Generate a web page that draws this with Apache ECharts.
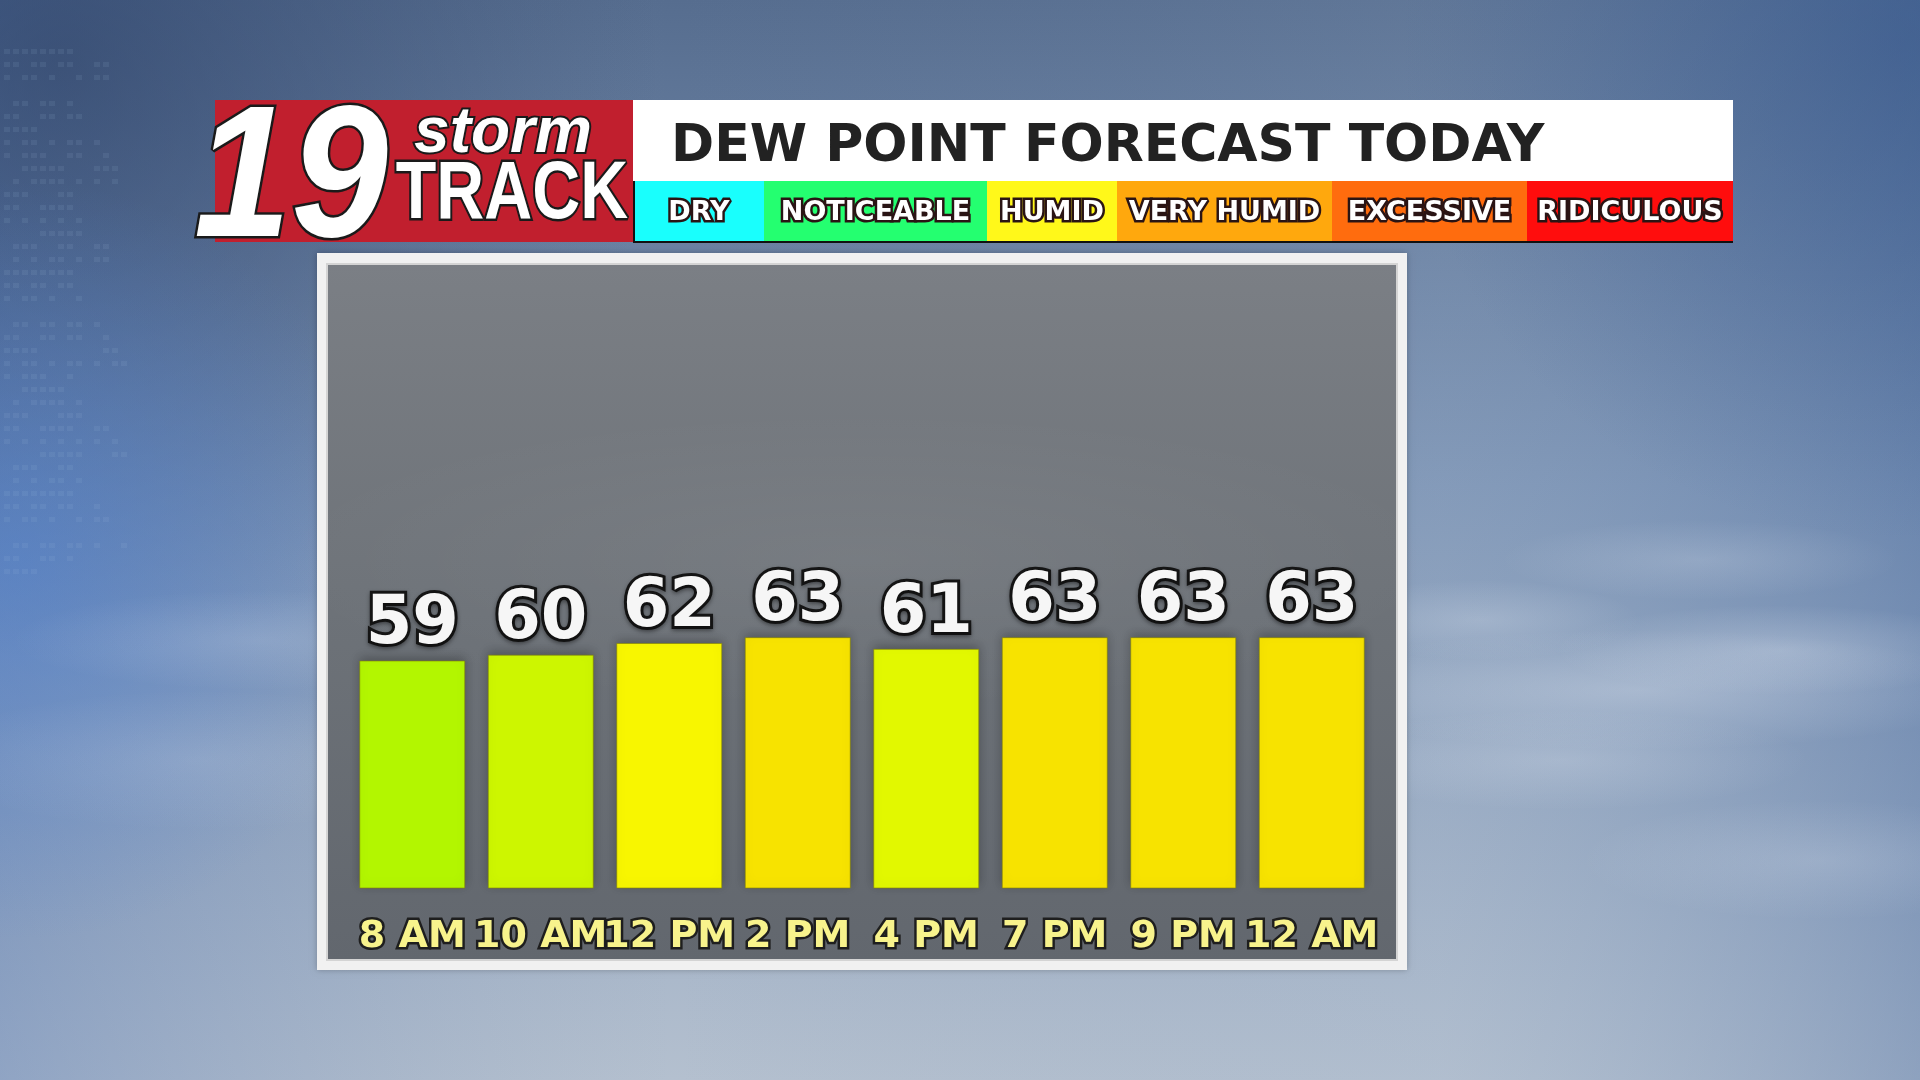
<!DOCTYPE html>
<html>
<head>
<meta charset="utf-8">
<script src="https://cdn.jsdelivr.net/npm/echarts@6/dist/echarts.min.js"></script>
<style>
  html, body { margin: 0; padding: 0; background: #7f93ad; }
  #chart { width: 1920px; height: 1080px; }
</style>
</head>
<body>
<div id="chart"></div>
<script>
// ---- data ----
const categories = ['8 AM', '10 AM', '12 PM', '2 PM', '4 PM', '7 PM', '9 PM', '12 AM'];
const dewPoints = [59, 60, 62, 63, 61, 63, 63, 63];
const titleText = 'DEW POINT FORECAST TODAY';
const scaleLabels = ['DRY', 'NOTICEABLE', 'HUMID', 'VERY HUMID', 'EXCESSIVE', 'RIDICULOUS'];
const yMin = 20;
const yMax = 80;

// ---- styling (not data) ----
const scaleColors = ['#19fffd', '#24ff70', '#fff81a', '#ffa80d', '#ff6c0e', '#ff0d0d'];
const scaleEdges = [634, 764, 987, 1117, 1332, 1527, 1733];
const valueColors = [
  { value: 59, color: '#b3f600' },
  { value: 60, color: '#cdf600' },
  { value: 61, color: '#e2f800' },
  { value: 62, color: '#f8f600' },
  { value: 63, color: '#f7e300' }
];

const chart = echarts.init(document.getElementById('chart'), null, { renderer: 'canvas' });

function softBlob(cx, cy, r, sx, color, alpha, z) {
  return {
    type: 'circle', z: z, silent: true,
    x: cx, y: cy, scaleX: sx, scaleY: 1,
    shape: { cx: 0, cy: 0, r: r },
    style: { fill: new echarts.graphic.RadialGradient(0.5, 0.5, 0.5, [
      { offset: 0, color: 'rgba(' + color + ',' + alpha + ')' },
      { offset: 1, color: 'rgba(' + color + ',0)' }
    ]) }
  };
}

const graphics = [];
// sky background
graphics.push({
  type: 'rect', z: -100, silent: true,
  shape: { x: 0, y: 0, width: 1920, height: 1080 },
  style: { fill: new echarts.graphic.LinearGradient(0, 0, 0, 1, [
    { offset: 0, color: '#566d8f' },
    { offset: 0.45, color: '#7f96b6' },
    { offset: 1, color: '#b4c0cf' }
  ]) }
});
graphics.push({
  type: 'rect', z: -99, silent: true,
  shape: { x: 0, y: 0, width: 1920, height: 1080 },
  style: { fill: new echarts.graphic.LinearGradient(0, 0, 1, 0, [
    { offset: 0, color: 'rgba(60,100,170,0.30)' },
    { offset: 0.35, color: 'rgba(120,140,170,0.0)' },
    { offset: 0.75, color: 'rgba(160,180,205,0.15)' },
    { offset: 1, color: 'rgba(70,105,160,0.35)' }
  ]) }
});
graphics.push(softBlob(60, 60, 600, 1, '40,58,92', 0.55, -98));
graphics.push(softBlob(1900, 40, 500, 1, '50,85,140', 0.45, -98));
graphics.push(softBlob(20, 560, 380, 1, '80,130,210', 0.55, -98));
// wispy clouds on the right and lower left
[[1640, 690, 60, 6, 0.30], [1780, 650, 45, 5, 0.28], [1560, 760, 50, 5, 0.22], [1820, 860, 60, 4, 0.18],
 [1480, 620, 40, 4, 0.22], [260, 640, 50, 5, 0.16], [200, 760, 70, 4, 0.14], [1700, 560, 40, 5, 0.18]].forEach(c => {
  graphics.push(softBlob(c[0], c[1], c[2], c[3], '235,240,248', c[4], -97));
});
// faint dot-matrix map pattern at upper left
for (let r = 0; r < 44; r++) {
  for (let k = 0; k < 26; k++) {
    const h = (r * 37 + k * 53 + r * k * 11) % 17;
    const band = (k < 8 + (r % 7)) && (r > 2);
    if (!band || h < 7) continue;
    graphics.push({
      type: 'rect', z: -96, silent: true,
      shape: { x: 4 + k * 9, y: 10 + r * 13, width: 6, height: 5 },
      style: { fill: 'rgba(170,195,230,0.10)' }
    });
  }
}

// chart panel
graphics.push({
  type: 'rect', z: -50, silent: true,
  shape: { x: 317, y: 253, width: 1090, height: 717 },
  style: { fill: '#f1f1f1', shadowBlur: 6, shadowColor: 'rgba(0,0,0,0.25)' }
});
graphics.push({
  type: 'rect', z: -49, silent: true,
  shape: { x: 327, y: 264, width: 1070, height: 696 },
  style: { fill: new echarts.graphic.LinearGradient(0, 0, 0, 1, [
    { offset: 0, color: '#7b7f85' },
    { offset: 0.5, color: '#6d7278' },
    { offset: 1, color: '#62676e' }
  ]), stroke: '#d4d4d4', lineWidth: 2 }
});
graphics.push(softBlob(860, 560, 150, 4, '255,255,255', 0.06, -48));

// header: title bar
graphics.push({
  type: 'rect', z: 10, silent: true,
  shape: { x: 633, y: 100, width: 1100, height: 82 },
  style: { fill: '#ffffff' }
});
graphics.push({
  type: 'text', z: 11, silent: true,
  style: {
    text: titleText, x: 671, y: 147,
    font: 'bold 52px "DejaVu Sans"', fill: '#222222',
    textAlign: 'left', textVerticalAlign: 'middle'
  }
});
// color scale
scaleLabels.forEach((lab, i) => {
  const x0 = scaleEdges[i], x1 = scaleEdges[i + 1];
  graphics.push({
    type: 'rect', z: 10, silent: true,
    shape: { x: x0, y: 181, width: x1 - x0, height: 61 },
    style: { fill: scaleColors[i] }
  });
  graphics.push({
    type: 'text', z: 12, silent: true,
    style: {
      text: lab, x: (x0 + x1) / 2, y: 213,
      font: 'bold 27px "DejaVu Sans"', fill: '#ffffff',
      stroke: '#2a1414', lineWidth: 5,
      textAlign: 'center', textVerticalAlign: 'middle'
    }
  });
});
graphics.push({
  type: 'polyline', z: 13, silent: true,
  shape: { points: [[634, 181], [634, 242], [1733, 242]] },
  style: { stroke: '#111', lineWidth: 2, fill: null }
});

// logo
graphics.push({
  type: 'rect', z: 10, silent: true,
  shape: { x: 215, y: 100, width: 418, height: 142 },
  style: { fill: '#c11f2e' }
});
graphics.push({
  type: 'text', z: 12, silent: true, x: 291, y: 184, scaleX: 0.98, scaleY: 1.05,
  style: {
    text: '19', x: 0, y: 0,
    font: 'italic bold 178px "Liberation Sans"', fill: '#ffffff',
    stroke: '#1a1a1a', lineWidth: 5,
    textAlign: 'center', textVerticalAlign: 'middle'
  }
});
graphics.push({
  type: 'text', z: 12, silent: true,
  style: {
    text: 'storm', x: 503, y: 134,
    font: 'italic bold 64px "Liberation Sans"', fill: '#ffffff',
    stroke: '#1a1a1a', lineWidth: 4,
    textAlign: 'center', textVerticalAlign: 'middle'
  }
});
graphics.push({
  type: 'text', z: 12, silent: true, x: 512, y: 195, scaleX: 0.81,
  style: {
    text: 'TRACK', x: 0, y: 0,
    font: 'bold 82px "Liberation Sans"', fill: '#ffffff',
    stroke: '#1a1a1a', lineWidth: 5,
    textAlign: 'center', textVerticalAlign: 'middle'
  }
});

const option = {
  animation: false,
  backgroundColor: 'transparent',
  graphic: { elements: graphics },
  grid: { left: 348, right: 544, top: 538, bottom: 192, containLabel: false },
  xAxis: {
    type: 'category',
    data: categories,
    axisLine: { show: false },
    axisTick: { show: false },
    axisLabel: {
      margin: 30,
      interval: 0,
      color: '#f8f38c',
      fontFamily: 'DejaVu Sans',
      fontWeight: 'bold',
      fontSize: 38,
      textBorderColor: '#1e1e1e',
      textBorderWidth: 5
    }
  },
  yAxis: {
    type: 'value',
    min: yMin,
    max: yMax,
    show: false,
    splitLine: { show: false }
  },
  visualMap: {
    show: false,
    type: 'piecewise',
    dimension: 1,
    seriesIndex: 0,
    pieces: valueColors
  },
  series: [{
    type: 'bar',
    data: dewPoints,
    barWidth: 106,
    itemStyle: {
      borderColor: 'rgba(130,130,0,0.6)',
      borderWidth: 1,
      shadowBlur: 10,
      shadowOffsetY: -3,
      shadowColor: 'rgba(0,0,0,0.25)'
    },
    label: {
      show: true,
      position: 'top',
      distance: 1,
      color: '#f6f6f6',
      fontFamily: 'DejaVu Sans',
      fontWeight: 'bold',
      fontSize: 67,
      lineHeight: 67,
      textBorderColor: '#151515',
      textBorderWidth: 6,
      textShadowColor: 'rgba(0,0,0,0.35)',
      textShadowBlur: 4,
      textShadowOffsetY: 2
    }
  }]
};
chart.setOption(option);
</script>
</body>
</html>
